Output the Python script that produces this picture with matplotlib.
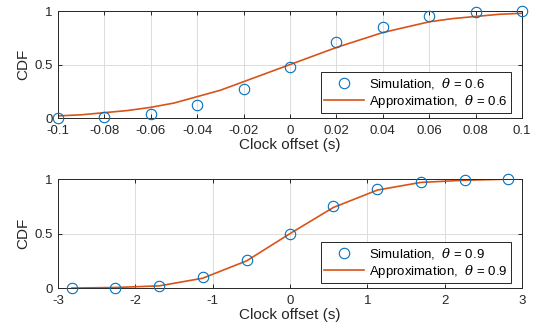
"""
CDF of clock offset: simulation vs approximation (two theta values)
"""
import matplotlib
matplotlib.use('Agg')
import matplotlib.pyplot as plt

plt.rcParams['font.family'] = ['Liberation Sans', 'DejaVu Sans']
plt.rcParams['mathtext.fontset'] = 'dejavuserif'

# theta = 0.6
sim1_x = [-0.1, -0.08, -0.06, -0.04, -0.02, 0, 0.02, 0.04, 0.06, 0.08, 0.1]
sim1_y = [0.0, 0.005, 0.04, 0.12, 0.27, 0.48, 0.71, 0.85, 0.95, 0.99, 1.0]
app1_x = [-0.1, -0.09, -0.08, -0.07, -0.06, -0.05, -0.04, -0.03, -0.02, -0.01, 0,
          0.01, 0.02, 0.03, 0.04, 0.05, 0.06, 0.07, 0.08, 0.09, 0.1]
app1_y = [0.02, 0.03, 0.05, 0.07, 0.10, 0.14, 0.20, 0.26, 0.34, 0.42, 0.50,
          0.58, 0.66, 0.73, 0.80, 0.85, 0.90, 0.93, 0.95, 0.97, 0.98]

# theta = 0.9
sim2_x = [-2.82, -2.26, -1.69, -1.13, -0.56, 0, 0.56, 1.13, 1.69, 2.26, 2.82]
sim2_y = [0.0, 0.005, 0.02, 0.10, 0.26, 0.50, 0.75, 0.91, 0.97, 0.99, 1.0]
app2_x = sim2_x
app2_y = [0.0, 0.005, 0.02, 0.09, 0.25, 0.50, 0.74, 0.90, 0.97, 0.99, 1.0]

xticks1 = [-0.1, -0.08, -0.06, -0.04, -0.02, 0, 0.02, 0.04, 0.06, 0.08, 0.1]
xticklabels1 = ['-0.1', '-0.08', '-0.06', '-0.04', '-0.02', '0', '0.02', '0.04', '0.06', '0.08', '0.1']
xticks2 = [-3, -2, -1, 0, 1, 2, 3]
xticklabels2 = ['-3', '-2', '-1', '0', '1', '2', '3']

BLUE = '#0072BD'
ORANGE = '#D95319'
DARK = '#262626'

fig = plt.figure(figsize=(5.34, 3.33), dpi=100)
ax1 = fig.add_axes([0.1086, 0.6456, 0.869, 0.321])
ax2 = fig.add_axes([0.1086, 0.135, 0.869, 0.327])

panels = [
    (ax1, sim1_x, sim1_y, app1_x, app1_y, '0.6', (-0.1, 0.1), xticks1, xticklabels1),
    (ax2, sim2_x, sim2_y, app2_x, app2_y, '0.9', (-3, 3), xticks2, xticklabels2),
]

for ax, sx, sy, axx, ayy, th, xlim, xt, xtl in panels:
    ax.plot(sx, sy, 'o', mfc='none', mec=BLUE, ms=7.5, mew=0.8,
            label=r'Simulation,  $\theta$ = ' + th, clip_on=False, zorder=3)
    ax.plot(axx, ayy, '-', color=ORANGE, lw=1.2,
            label=r'Approximation,  $\theta$ = ' + th, zorder=2)
    ax.set_xlim(*xlim)
    ax.set_ylim(0, 1)
    ax.set_xticks(xt)
    ax.set_xticklabels(xtl)
    ax.set_yticks([0, 0.5, 1])
    ax.set_yticklabels(['0', '0.5', '1'])
    ax.grid(True, color='#dcdcdc', lw=0.7)
    ax.set_axisbelow(True)
    ax.tick_params(direction='in', length=3, width=0.7, labelsize=9.5,
                   top=True, right=True, colors=DARK)
    ax.tick_params(axis='x', pad=5)
    ax.tick_params(axis='y', pad=4)
    for s in ax.spines.values():
        s.set_linewidth(0.7)
        s.set_color(DARK)
    ax.set_xlabel('Clock offset (s)', fontsize=11, labelpad=1, color=DARK)
    ax.set_ylabel('CDF', fontsize=11, labelpad=3, color=DARK)
    leg = ax.legend(loc='lower right', bbox_to_anchor=(1 - 11 / 464, 5 / 107),
                    borderaxespad=0, fontsize=9.5, frameon=True, fancybox=False,
                    handlelength=3.0, borderpad=0.25, labelspacing=0.15,
                    handletextpad=0.4, framealpha=1)
    leg.get_frame().set_edgecolor(DARK)
    leg.get_frame().set_linewidth(0.7)

plt.savefig('out.png', dpi=100)
